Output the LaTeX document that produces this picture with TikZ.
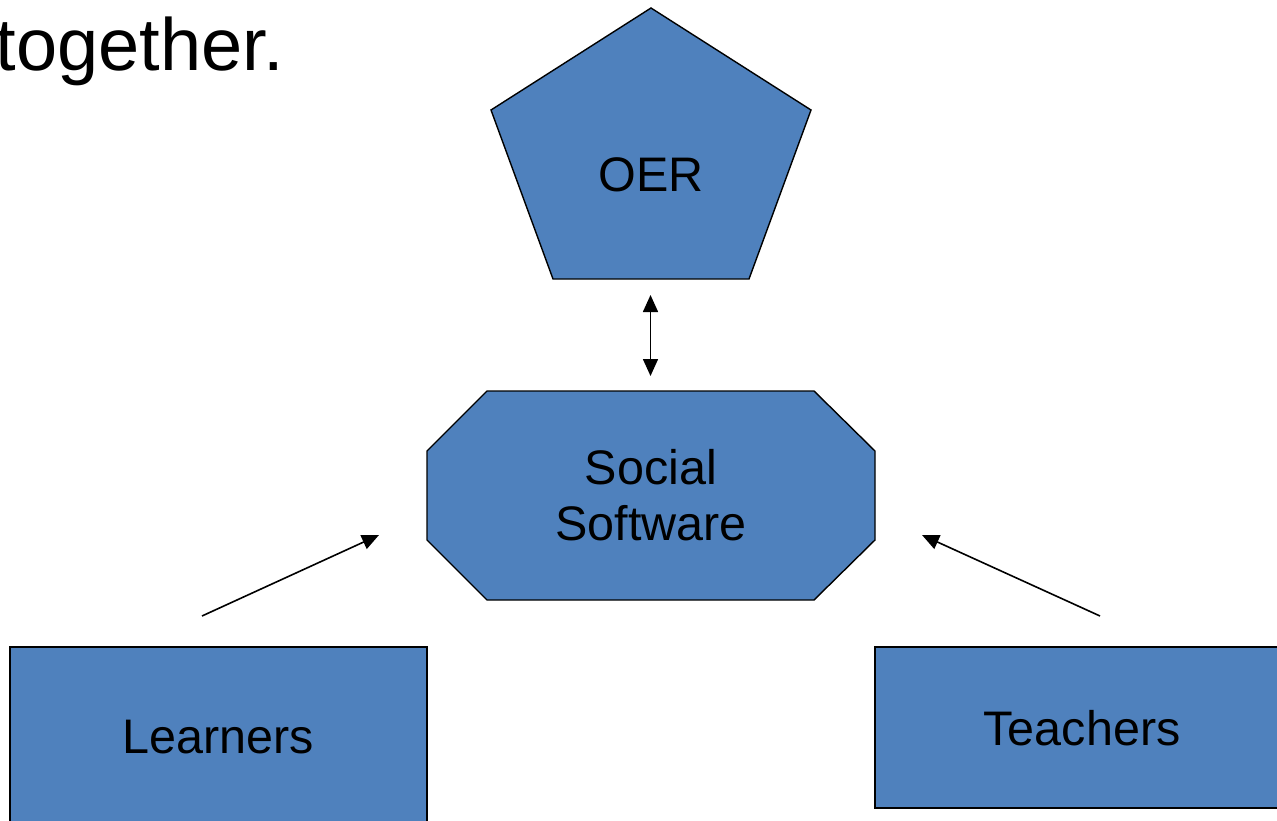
\documentclass[tikz,border=0pt]{standalone}
\usepackage{fontspec}
\setmainfont{Liberation Sans}
\usetikzlibrary{arrows.meta,shapes.misc}
\definecolor{boxblue}{HTML}{4F81BD}
\tikzset{
  shapefill/.style={fill=boxblue, draw=black, line width=1.4pt, line join=miter},
  label47/.style={font=\fontsize{48.5}{56}\selectfont, align=center, inner sep=0pt},
  linkarrow/.style={draw=black, line width=1.6pt, -{Triangle[length=17pt,width=15pt]}},
  twoway/.style={draw=black, line width=1.6pt, {Triangle[length=17pt,width=15pt]}-{Triangle[length=17pt,width=15pt]}}
}
\begin{document}
\begin{tikzpicture}[x=1pt,y=-1pt]
\useasboundingbox (0,0) rectangle (1277,821);

% heading fragment, running in from the left edge
\node[anchor=base east, inner sep=0pt, font=\fontsize{74}{80}\selectfont] (head) at (284,71) {together.};

% OER pentagon
\path[shapefill] (651,8) -- (811,110) -- (749,279) -- (553,279) -- (491,110) -- cycle;
\node[label47, anchor=base] (oer) at (651,192) {OER};

% Social Software octagon
\path[shapefill] (487,391) -- (814,391) -- (875,451) -- (875,540) -- (814,600)
  -- (487,600) -- (427,540) -- (427,451) -- cycle;
\node[label47, anchor=base] (soc1) at (651,484) {Social};
\node[label47, anchor=base] (soc2) at (651,540) {Software};

% Learners and Teachers boxes
\path[shapefill] (10,847) -- (10,647) -- (427,647) -- (427,847);
\node[label47, anchor=base] (learn) at (218,753) {Learners};
\path[shapefill] (1300,647) -- (875,647) -- (875,808) -- (1300,808);
\node[label47, anchor=base] (teach) at (1082,745) {Teachers};

% connectors
\coordinate (oerlink) at (650.5,295);
\coordinate (soclink) at (650.5,376);
\coordinate (lfrom) at (202,616);
\coordinate (lto) at (379,535);
\coordinate (tfrom) at (1100,616);
\coordinate (tto) at (922,535);
\draw[twoway] (oerlink) -- (soclink);
\draw[linkarrow] (lfrom) -- (lto);
\draw[linkarrow] (tfrom) -- (tto);
\end{tikzpicture}
\end{document}
